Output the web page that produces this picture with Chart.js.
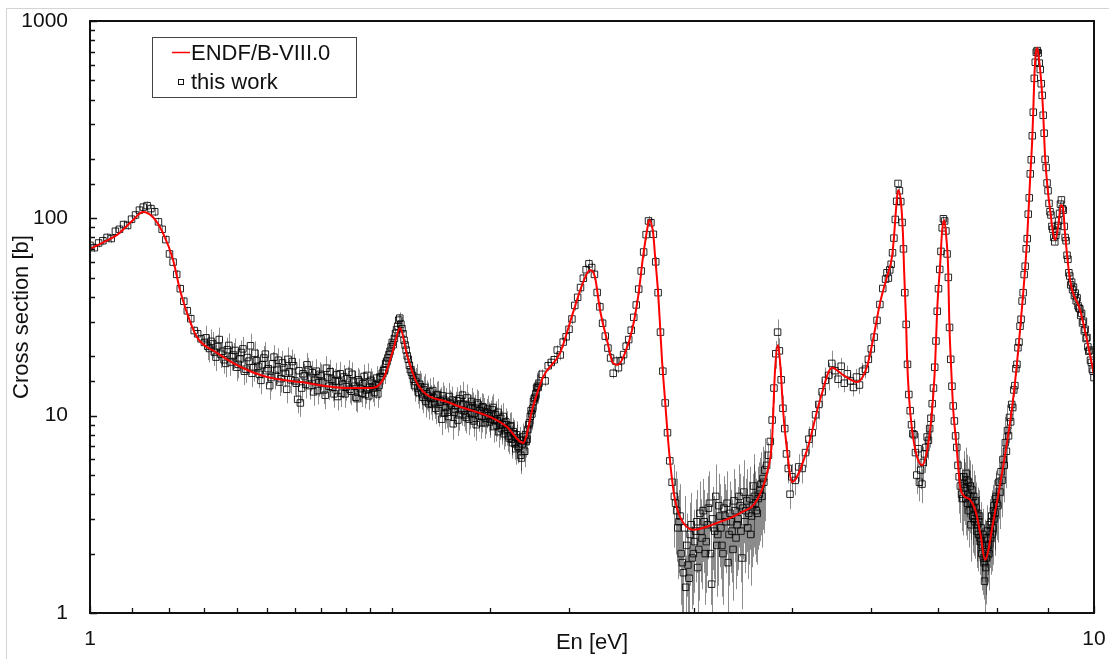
<!DOCTYPE html>
<html lang="en">
<head>
<meta charset="UTF-8" />
<title>Cross section</title>
<script src="https://cdn.jsdelivr.net/npm/chart.js"></script>
<style>
  html, body { margin: 0; padding: 0; background: #fff; }
  #wrap { position: relative; width: 1109px; height: 659px; overflow: hidden; }
  #frame { position: absolute; left: 6px; top: 8px; right: -2px; bottom: -2px;
           border-left: 1px solid #d4d4d4; border-top: 1px solid #d4d4d4; }
  canvas { position: absolute; left: 0; top: 0; }
</style>
</head>
<body>
<div id="wrap">
  <div id="frame"></div>
  <canvas id="xsChart" width="1109" height="659"></canvas>
</div>

<script>
// ENDF/B-VIII.0 evaluated curve (energy in eV, cross section in b)
const ENDF_E = [1.000,1.033,1.064,1.104,1.129,1.155,1.182,1.210,1.229,1.249,1.278,1.338,1.411,1.501,1.619,1.815,1.901,1.958,2.004,2.036,
  2.069,2.117,2.284,2.503,2.602,2.700,2.762,2.827,2.939,3.027,3.097,3.148,3.184,3.221,3.273,3.318,3.357,3.411,3.467,3.515,
  3.555,3.588,3.605,3.638,3.655,3.680,3.697,3.713,3.739,3.765,3.800,3.826,3.870,3.987,4.212,4.441,4.617,4.724,4.779,4.812,
  4.845,4.878,4.901,4.946,5.003,5.178,5.335,5.483,5.623,5.807,5.941,6.024,6.122,6.220,6.292,6.321,6.350,6.380,6.424,6.454,
  6.469,6.498,6.513,6.543,6.589,6.665,6.742,6.821,6.899,6.947,6.979,7.028,7.060,7.093,7.126,7.158,7.175,7.208,7.241,7.291,
  7.358,7.409,7.529,7.616,7.704,7.789,7.933,8.118,8.305,8.440,8.577,8.636,8.676,8.696,8.716,8.736,8.776,8.817,8.857,8.897,
  8.939,9.000,9.041,9.104,9.146,9.209,9.270,9.313,9.356,9.465,9.685,9.840,10.0];
const ENDF_XS = [70.0,75.9,82.4,98.2,107.7,101.6,84.4,61.5,43.4,33.2,25.0,20.8,17.7,15.7,14.8,13.8,13.8,15.2,21.5,27.8,
  20.3,14.6,11.6,9.85,8.77,7.27,11.1,15.7,20.8,33.2,47.1,54.7,50.5,34.3,24.2,18.5,18.1,20.8,27.2,40.0,
  63.7,87.3,98.2,84.4,63.7,41.9,28.2,19.1,12.0,7.53,4.72,3.74,3.07,2.64,2.86,3.21,3.74,5.13,7.53,17.1,
  22.8,16.1,10.7,6.70,4.61,6.70,12.0,17.5,16.1,14.8,17.7,24.2,37.3,50.5,63.7,80.5,110.4,139.3,119.7,80.5,
  54.7,30.5,19.8,12.4,8.46,6.18,5.62,6.70,10.7,18.5,34.3,59.4,87.3,98.2,80.5,54.7,30.5,17.1,10.7,7.27,
  4.35,3.96,3.74,3.33,2.54,1.86,2.86,5.50,12.0,27.2,77.8,156.6,241,326.6,474,620,731,635,503,354,
  205,134.5,111,84.4,77.8,90.4,116.9,113.7,84.4,48.7,34.3,24.2,16.1];

// measured points ("this work"), main grid
const MEAS_E = [
  1.00,1.01,1.02,1.03,1.04,1.05,1.06,1.07,1.08,1.09,
  1.10,1.11,1.12,1.13,1.14,1.15,1.16,1.17,1.18,1.19,
  1.20,1.21,1.22,1.23,1.24,1.25,1.26,1.27,1.28,1.29,
  1.30,
  1.31,1.32,1.33,1.34,1.35,1.36,1.37,1.38,1.39,1.40,
  1.41,1.42,1.43,1.44,1.45,1.46,1.47,1.48,1.49,1.50,
  1.51,1.52,1.53,1.54,1.55,1.56,1.57,1.58,1.59,1.60,
  1.61,1.62,1.63,1.64,1.65,1.66,1.67,1.68,1.69,1.70,
  1.71,1.72,1.73,1.74,1.75,1.76,1.77,1.78,1.79,1.80,
  1.81,1.82,1.83,1.84,1.85,1.86,1.87,1.88,1.89,1.90,
  1.91,1.92,1.93,1.94,1.95,1.96,1.97,1.98,1.99,2.00,
  2.01,2.02,2.03,2.04,2.05,2.06,2.07,2.08,2.09,2.10,
  2.11,2.12,2.13,2.14,2.15,2.16,2.17,2.18,2.19,2.20,
  2.21,2.22,2.23,2.24,2.25,2.26,2.27,2.28,2.29,2.30,
  2.31,2.32,2.33,2.34,2.35,2.36,2.37,2.38,2.39,2.40,
  2.41,2.42,2.43,2.44,2.45,2.46,2.47,2.48,2.49,2.50,
  2.51,2.52,2.53,2.54,2.55,2.56,2.57,2.58,2.59,2.60,
  2.61,2.62,2.63,2.64,2.65,2.66,2.67,2.68,2.69,2.70,
  2.71,2.72,2.73,2.74,2.75,2.76,2.77,2.78,2.79,2.80,
  2.82,2.84,2.86,2.88,2.90,2.92,2.94,2.96,2.98,3.00,
  3.02,3.04,3.06,3.08,3.10,3.12,3.14,3.16,3.18,3.20,
  3.22,3.24,3.26,3.28,3.30,3.32,3.34,3.36,3.38,3.40,
  3.42,3.44,3.46,3.48,3.50,3.52,3.54,3.56,3.58,3.60,
  3.62,3.64,3.66,3.68,3.70,3.72,3.74,3.76,3.78,3.80,
  3.82,3.84,3.86,3.88,3.90,3.92,3.94,3.96,3.98,4.00,
  4.02,4.04,4.06,4.08,4.10,4.12,4.14,4.16,4.18,4.20,
  4.22,4.24,4.26,4.28,4.30,4.32,4.34,4.36,4.38,4.40,
  4.42,4.44,4.46,4.48,4.50,4.52,4.54,4.56,4.58,4.60,
  4.62,4.64,4.66,4.68,4.70,
  4.72,4.74,4.76,4.78,4.80,4.82,4.84,4.86,4.88,4.90,
  4.92,4.94,4.96,4.98,5.00,
  5.04,5.08,5.12,5.16,5.20,5.24,5.28,5.32,5.36,5.40,
  5.44,5.48,5.52,5.56,5.60,5.64,5.68,5.72,5.76,5.80,
  5.84,5.88,5.92,5.96,6.00,6.04,6.08,6.12,6.16,6.20,
  6.22,6.24,6.26,6.28,6.30,6.32,6.34,6.36,6.38,6.40,
  6.42,6.44,6.46,6.48,6.50,6.52,6.54,6.56,6.58,6.60,
  6.62,6.64,6.66,6.68,6.70,6.72,6.74,6.76,6.78,6.80,
  6.82,6.84,6.86,6.88,6.90,6.92,6.94,6.96,6.98,7.00,
  7.02,7.04,7.06,7.08,7.10,7.12,7.14,7.16,7.18,7.20,
  7.22,7.24,7.26,7.28,7.30,7.32,7.34,7.36,7.38,7.40,
  7.42,7.44,7.46,7.48,7.50,7.52,7.54,7.56,7.58,7.60,
  7.62,7.64,7.66,7.68,7.70,7.72,7.74,7.76,7.78,7.80,
  7.82,7.84,7.86,7.88,7.90,7.92,7.94,7.96,7.98,8.00,
  8.02,8.04,8.06,8.08,8.10,8.12,8.14,8.16,8.18,8.20,
  8.22,8.24,8.26,8.28,8.30,8.32,8.34,8.36,8.38,8.40,
  8.42,8.44,8.46,8.48,8.50,8.52,8.54,8.56,8.58,8.60,
  8.62,8.64,8.66,8.68,8.70,8.72,8.74,8.76,8.78,8.80,
  8.82,8.84,8.86,8.88,8.90,8.92,8.94,8.96,8.98,9.00,
  9.02,9.04,9.06,9.08,9.10,9.12,9.14,9.16,9.18,9.20,
  9.22,9.24,9.26,9.28,9.30,9.32,9.34,9.36,9.38,9.40,
  9.42,9.44,9.46,9.48,9.50,9.52,9.54,9.56,9.58,9.60,
  9.62,9.64,9.66,9.68,9.70,9.72,9.74,9.76,9.78,9.80,
  9.82,9.84,9.86,9.88,9.90,9.92,9.94,9.96,9.98,10.00];
const MEAS_XS = [
  73,71,75,77,80,79,86,88,93,92,
  99,104,110,114,116,112,108,96,88,78,
  66,60,52,44,38,34,31,27,26,24.5,
  23.5,
  22.5,23.8,21.0,22.4,20.5,19.2,21.6,18.7,20.3,17.6,
  19.4,21.8,17.2,18.9,16.4,20.7,17.8,15.1,19.6,16.9,
  14.2,18.3,16.0,19.1,15.4,17.5,13.6,16.7,18.8,15.0,
  12.1,11.6,16.3,14.4,17.1,15.6,13.2,16.8,14.7,15.9,
  13.5,17.4,14.1,15.3,12.9,16.1,14.9,13.0,15.7,14.0,
  16.6,13.3,14.8,12.4,15.2,13.7,14.5,12.8,16.0,13.9,
  14.6,13.1,15.5,14.2,15.8,16.9,18.4,19.6,21.2,23.5,
  24.6,27.3,30.5,29.1,26.0,22.8,20.1,18.0,16.6,15.3,
  14.9,13.8,14.4,12.9,13.5,11.8,12.6,13.2,11.4,12.3,
  10.9,12.8,11.7,9.6,12.1,11.0,10.4,12.5,11.3,9.1,
  10.8,11.9,10.1,11.5,12.7,10.6,9.8,11.2,10.3,11.8,
  9.4,10.9,11.6,10.0,9.2,11.1,10.5,9.7,10.8,9.3,
  10.2,11.0,9.5,8.9,10.4,9.1,8.6,9.9,8.4,9.0,
  7.9,8.8,7.6,8.3,7.2,8.0,6.9,7.5,6.1,7.8,
  6.6,7.4,8.5,9.2,10.6,10.9,12.2,12.9,14.1,14.6,
  16.2,15.0,17.9,18.6,19.2,21.5,20.3,23.6,25.1,27.4,
  30.9,36.2,39.8,44.6,49.7,54.9,58.8,56.3,52.0,42.1,
  35.6,29.4,25.3,22.0,19.6,16.4,18.9,17.5,19.0,20.4,
  22.5,24.3,27.1,31.5,36.4,43.8,54.1,67.5,82.7,97.0,
  95.0,83.0,60.2,42.0,26.5,16.8,11.6,8.2,5.9,4.6,
  3.9,3.3,2.9,2.0,1.6,1.35,1.75,2.5,1.9,2.3,
  2.9,2.1,2.6,3.3,2.0,2.8,3.6,1.4,2.7,3.9,
  2.5,3.1,2.2,3.4,2.9,1.8,3.2,2.6,3.7,2.4,
  3.0,3.5,1.9,4.1,3.3,2.7,3.8,3.1,4.4,3.6,
  3.2,4.0,4.5,4.8,5.3,
  5.6,6.3,7.4,9.5,13.8,20.6,26.5,21.3,15.2,10.9,
  8.6,6.4,5.4,4.0,4.9,
  4.7,5.5,5.4,6.5,7.6,8.2,10.1,11.4,13.2,15.1,
  16.0,18.4,16.9,15.3,17.8,14.6,16.3,15.0,13.9,15.7,
  14.3,16.8,17.2,19.3,21.8,25.0,30.4,36.6,44.1,49.2,
  53.0,49.8,54.8,58.5,66.9,79.4,98.7,122.0,150.2,138.0,
  121.5,95.3,70.0,42.0,29.0,18.2,12.8,10.6,9.0,8.1,
  8.0,6.5,5.0,6.8,4.6,5.3,4.5,5.8,6.4,6.9,
  7.8,7.5,8.6,9.7,11.5,13.8,17.6,23.9,33.8,44.0,
  55.1,68.0,89.5,99.5,97.0,86.3,66.0,50.2,28.0,19.3,
  14.1,11.2,9.4,7.9,6.9,5.6,4.9,4.4,4.0,3.8,
  4.9,4.3,5.1,3.6,4.6,3.9,2.8,4.2,3.4,3.0,
  3.7,2.6,3.2,2.9,2.4,2.7,2.2,1.9,1.45,1.7,
  2.1,2.4,2.0,2.6,2.9,2.5,3.3,3.0,3.8,3.6,
  3.5,4.6,4.1,5.2,4.7,6.0,5.6,7.3,6.6,8.4,
  7.9,9.8,9.3,11.4,11.0,13.5,14.2,17.3,18.2,22.1,
  23.6,28.4,30.8,38.1,42.0,51.9,57.2,70.1,78.9,105,
  127,168,198,262,345,512,618,695,708,688,
  612,568,481,420,333,270,199,181,151,138,
  119,108,104,91,88,80,76,82,86,92,
  97,106,118,124,112,110,91,80,77,65,
  62,53,51,46,47.5,43.5,44.8,40.6,41.8,38.2,
  39.5,36.0,35.1,34.8,32.2,33.0,29.5,30.1,26.9,27.4,
  24.6,24.9,22.3,21.2,21.5,19.1,18.6,17.2,16.8,15.6];

// measured points ("this work"), interleaved bins in the noisy regions
const MEAS2_E = [
  1.305,1.315,1.325,1.335,1.345,1.355,1.365,1.375,1.385,1.395,
  1.405,1.415,1.425,1.435,1.445,1.455,1.465,1.475,1.485,1.495,
  1.505,1.515,1.525,1.535,1.545,1.555,1.565,1.575,1.585,1.595,
  1.605,1.615,1.625,1.635,1.645,1.655,1.665,1.675,1.685,1.695,
  1.705,1.715,1.725,1.735,1.745,1.755,1.765,1.775,1.785,1.795,
  1.805,1.815,1.825,1.835,1.845,1.855,1.865,1.875,1.885,1.895,
  1.905,1.915,1.925,1.935,1.945,1.955,1.965,1.975,1.985,1.995,
  2.005,2.015,2.025,2.035,2.045,2.055,2.065,2.075,2.085,2.095,
  2.105,2.115,2.125,2.135,2.145,2.155,2.165,2.175,2.185,2.195,
  2.205,2.215,2.225,2.235,2.245,2.255,2.265,2.275,2.285,2.295,
  2.305,2.315,2.325,2.335,2.345,2.355,2.365,2.375,2.385,2.395,
  2.405,2.415,2.425,2.435,2.445,2.455,2.465,2.475,2.485,2.495,
  2.505,2.515,2.525,2.535,2.545,2.555,2.565,2.575,2.585,2.595,
  2.605,2.615,2.625,2.635,2.645,2.655,2.665,2.675,2.685,2.695,
  2.705,2.715,2.725,2.735,2.745,2.755,2.765,2.775,2.785,2.795,
  3.83,3.85,3.87,3.89,3.91,3.93,3.95,3.97,3.99,4.01,
  4.03,4.05,4.07,4.09,4.11,4.13,4.15,4.17,4.19,4.21,
  4.23,4.25,4.27,4.29,4.31,4.33,4.35,4.37,4.39,4.41,
  4.43,4.45,4.47,4.49,4.51,4.53,4.55,4.57,4.59,4.61,
  4.63,4.65,4.67,4.69,
  7.43,7.45,7.47,7.49,7.51,7.53,7.55,7.57,7.59,7.61,
  7.63,7.65,7.67,7.69,7.71,7.73,7.75,7.77,7.79,7.81,
  7.83,7.85,7.87,7.89,7.91,7.93,7.95,7.97,7.99];
const MEAS2_XS = [
  24.8,21.9,23.1,19.8,24.3,21.2,18.4,22.7,19.9,21.4,
  18.2,20.9,16.8,19.7,22.6,17.5,19.0,16.2,18.1,20.5,
  17.3,15.6,19.8,17.0,14.8,18.5,16.4,19.3,15.2,17.9,
  14.6,16.9,13.8,15.9,18.1,14.2,16.5,15.1,13.4,16.2,
  14.8,12.7,15.6,16.7,13.9,15.0,12.5,16.3,14.4,12.9,
  15.4,13.6,16.2,14.1,12.2,14.9,13.0,15.8,13.5,12.6,
  15.1,13.8,14.3,12.9,15.6,16.4,17.0,18.9,20.4,22.3,
  22.9,26.1,28.4,31.2,27.6,24.1,21.5,19.3,17.1,16.0,
  14.2,15.6,13.1,14.0,12.4,13.9,12.9,11.5,12.2,13.4,
  11.6,12.7,10.6,11.9,12.6,10.3,11.8,9.9,11.5,12.0,
  10.4,11.3,9.5,12.2,10.7,11.4,10.1,12.3,9.6,10.9,
  11.2,10.3,9.0,11.4,10.6,9.9,11.0,9.2,10.4,10.0,
  9.6,10.7,8.8,10.1,9.4,8.3,9.7,9.0,8.1,9.3,
  8.5,7.7,8.9,7.3,8.1,6.8,7.7,7.0,6.3,7.2,
  7.5,8.0,7.6,9.0,9.9,10.2,11.8,12.4,13.8,13.9,
  3.6,2.7,3.1,1.8,2.7,2.2,1.5,2.8,2.0,2.6,
  1.7,3.2,2.4,2.9,2.3,3.4,2.0,3.0,2.6,2.2,
  3.5,2.7,2.0,3.1,3.6,2.5,2.9,2.1,3.3,2.8,
  3.9,2.6,3.4,2.9,3.7,3.2,2.5,3.5,3.9,3.3,
  3.8,4.2,3.9,4.6,
  4.5,3.8,4.7,4.0,3.3,4.4,3.6,3.1,3.9,2.9,
  3.4,2.8,2.5,3.1,2.3,2.0,2.5,1.8,2.2,1.9,
  2.6,2.2,2.8,2.4,3.1,2.7,3.5,3.2,3.9];

// relative uncertainty of the measured points, by energy band (upper band edge in eV)
const ERR_BAND_END = [1.30, 2.00, 2.08, 2.81, 3.81, 4.71, 5.50, 6.10, 6.61, 6.90, 7.31, 8.21, 8.50, 10.01];
const ERR_BAND_FRAC = [0.05, 0.15, 0.07, 0.17, 0.06, 0.45, 0.16, 0.10, 0.03, 0.20, 0.03, 0.35, 0.08, 0.03];

const X_TICK_LABELS = [1, 10];
const Y_TICK_LABELS = [1, 10, 100, 1000];

const FONT = '"Liberation Sans", Arial, Helvetica, sans-serif';

const ALL_E = MEAS_E.concat(MEAS2_E);
const ALL_XS = MEAS_XS.concat(MEAS2_XS);

function errFrac(e) {
  for (let i = 0; i < ERR_BAND_END.length; i++) {
    if (e <= ERR_BAND_END[i]) return ERR_BAND_FRAC[i];
  }
  return ERR_BAND_FRAC[ERR_BAND_FRAC.length - 1];
}

// vertical error bars, drawn under the markers
const errorBars = {
  id: 'errorBars',
  beforeDatasetsDraw(chart) {
    const { ctx, chartArea: a, scales: { x, y } } = chart;
    ctx.save();
    ctx.beginPath();
    ctx.rect(a.left, a.top, a.right - a.left, a.bottom - a.top);
    ctx.clip();
    ctx.strokeStyle = 'rgba(0,0,0,0.45)';
    ctx.lineWidth = 1;
    ALL_E.forEach((e, i) => {
      const v = ALL_XS[i];
      const f = errFrac(e);
      const px = Math.round(x.getPixelForValue(e)) + 0.5;
      ctx.beginPath();
      ctx.moveTo(px, y.getPixelForValue(v * (1 + f)));
      ctx.lineTo(px, y.getPixelForValue(Math.max(v * (1 - f), 0.5)));
      ctx.stroke();
    });
    ctx.restore();
  }
};

// box, inward ticks and the legend
const frameAndLegend = {
  id: 'frameAndLegend',
  afterDraw(chart) {
    const { ctx, chartArea: a, scales: { x, y } } = chart;
    ctx.save();
    ctx.strokeStyle = '#111';
    ctx.lineWidth = 2;
    ctx.strokeRect(a.left, a.top, a.right - a.left, a.bottom - a.top);

    ctx.lineWidth = 1.3;
    ctx.beginPath();
    x.ticks.forEach(t => {
      const px = Math.round(x.getPixelForValue(t.value)) + 0.5;
      const len = X_TICK_LABELS.includes(t.value) ? 7 : 5;
      ctx.moveTo(px, a.bottom);
      ctx.lineTo(px, a.bottom - len);
    });
    y.ticks.forEach(t => {
      const py = Math.round(y.getPixelForValue(t.value)) + 0.5;
      const len = Y_TICK_LABELS.includes(t.value) ? 7 : 5;
      ctx.moveTo(a.left, py);
      ctx.lineTo(a.left + len, py);
    });
    ctx.stroke();

    // legend
    ctx.fillStyle = '#fff';
    ctx.fillRect(152.5, 37.5, 204, 60);
    ctx.strokeStyle = '#444';
    ctx.lineWidth = 1;
    ctx.strokeRect(152.5, 37.5, 204, 60);

    ctx.strokeStyle = '#ff0000';
    ctx.lineWidth = 1.5;
    ctx.beginPath();
    ctx.moveTo(172, 52.5);
    ctx.lineTo(190, 52.5);
    ctx.stroke();

    ctx.strokeStyle = '#111';
    ctx.lineWidth = 1;
    ctx.strokeRect(178.5, 79.5, 5, 5);

    ctx.fillStyle = '#111';
    ctx.font = '22px ' + FONT;
    ctx.textAlign = 'left';
    ctx.textBaseline = 'alphabetic';
    ctx.fillText('ENDF/B-VIII.0', 191, 60);
    ctx.fillText('this work', 191, 89);
    ctx.restore();
  }
};

new Chart(document.getElementById('xsChart'), {
  type: 'scatter',
  data: {
    datasets: [
      {
        type: 'line',
        label: 'ENDF/B-VIII.0',
        data: ENDF_E.map((e, i) => ({ x: e, y: ENDF_XS[i] })),
        borderColor: '#ff0000',
        borderWidth: 2,
        pointRadius: 0,
        fill: false,
        cubicInterpolationMode: 'monotone'
      },
      {
        label: 'this work',
        data: ALL_E.map((e, i) => ({ x: e, y: ALL_XS[i] })),
        pointStyle: 'rect',
        pointRadius: 4.6,
        borderWidth: 1,
        borderColor: 'rgba(0,0,0,0.85)',
        backgroundColor: 'rgba(0,0,0,0)'
      }
    ]
  },
  options: {
    responsive: false,
    animation: false,
    devicePixelRatio: 1,
    layout: { padding: { left: 0, top: 21, right: 15, bottom: 0 } },
    plugins: { legend: { display: false }, tooltip: { enabled: false } },
    scales: {
      x: {
        type: 'logarithmic',
        min: 1,
        max: 10,
        grid: { display: false, drawTicks: false },
        border: { display: false },
        ticks: {
          autoSkip: false,
          maxRotation: 0,
          padding: 14,
          color: '#111',
          font: { size: 21, family: FONT },
          callback: v => X_TICK_LABELS.includes(v) ? String(v) : ''
        },
        title: {
          display: true,
          text: 'En [eV]',
          color: '#111',
          font: { size: 22, family: FONT },
          padding: { top: 0, bottom: 3 }
        },
        afterFit(scale) {
          scale.height = 46;
          scale.paddingLeft = 0;
          scale.paddingRight = 0;
        }
      },
      y: {
        type: 'logarithmic',
        min: 1,
        max: 1000,
        grid: { display: false, drawTicks: false },
        border: { display: false },
        ticks: {
          autoSkip: false,
          padding: 22,
          color: '#111',
          font: { size: 21, family: FONT },
          callback: v => Y_TICK_LABELS.includes(v) ? String(v) : ''
        },
        title: {
          display: true,
          text: 'Cross section [b]',
          color: '#111',
          font: { size: 22, family: FONT },
          padding: { top: 9, bottom: 0 }
        },
        afterFit(scale) {
          scale.width = 90;
          scale.paddingTop = 0;
          scale.paddingBottom = 0;
        }
      }
    }
  },
  plugins: [errorBars, frameAndLegend]
});
</script>
</body>
</html>
